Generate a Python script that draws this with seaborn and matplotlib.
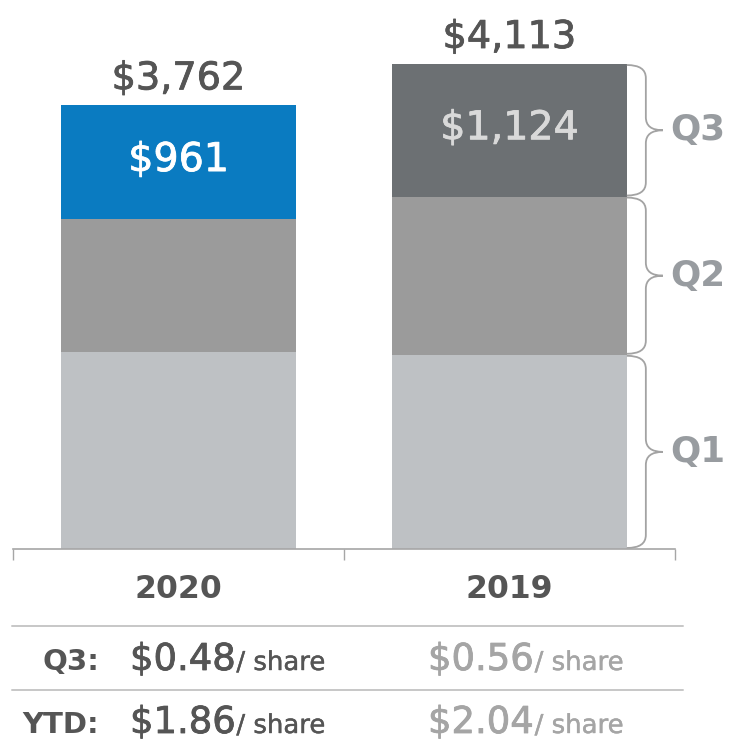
import matplotlib
matplotlib.use("Agg")
import matplotlib.pyplot as plt
import matplotlib.transforms as mtransforms
import matplotlib.patheffects as pe
from matplotlib.lines import Line2D
from matplotlib.patches import PathPatch
from matplotlib.path import Path
import seaborn as sns
import pandas as pd

# Net income by quarter ($ millions)
years = ["2020", "2019"]
q1_income = [1672, 1647]
q2_income = [1129, 1342]
q3_income = [961, 1124]
quarters = ["Q1", "Q2", "Q3"]

# Earnings per share
row_labels = ["Q3:", "YTD:"]
q3_eps = [0.48, 0.56]
ytd_eps = [1.86, 2.04]

sns.set_theme(style="white")
plt.rcParams["font.family"] = ["DejaVu Sans"]

W, H = 733, 747
fig = plt.figure(figsize=(W / 100, H / 100), dpi=100)
fig.patch.set_facecolor("white")

base_px, left_px, right_px = 549, 13, 675
ax = fig.add_axes([left_px / W, 1 - base_px / H, (right_px - left_px) / W, base_px / H])

df = pd.DataFrame({"year": years, "q1": q1_income, "q2": q2_income, "q3": q3_income})
df["upto_q2"] = df["q1"] + df["q2"]
df["total"] = df["upto_q2"] + df["q3"]

bar_w = 0.709
common = dict(data=df, x="year", order=years, width=bar_w, saturation=1,
              errorbar=None, linewidth=0, ax=ax)
sns.barplot(y="total", hue="year", palette={"2020": "#0A7BC1", "2019": "#6C7073"},
            legend=False, **common)
sns.barplot(y="upto_q2", color="#9B9B9B", **common)
sns.barplot(y="q1", color="#BEC1C4", **common)

ytop = df["total"].max() * base_px / (base_px - 64)
ax.set_ylim(0, ytop)
ax.set_xlim(-0.5, 1.5)
ax.set_xlabel("")
ax.set_ylabel("")
ax.set_yticks([])
ax.set_xticks([-0.5, 0.5, 1.5])
ax.set_xticklabels([])
ax.tick_params(axis="x", bottom=True, length=8, width=1, color="#A6A6A6", direction="out")
for side in ["left", "top", "right"]:
    ax.spines[side].set_visible(False)
ax.spines["bottom"].set_color("#A6A6A6")
ax.spines["bottom"].set_linewidth(1.2)

px_x = (right_px - left_px) / 2.0      # pixels per x data unit
px_y = base_px / ytop                   # pixels per y data unit
PT = 0.72                               # points per pixel at 100 dpi


def heavy(color, w=0.6):
    """Slightly thicker strokes for regular-weight figures."""
    return [pe.withStroke(linewidth=w, foreground=color)]


# totals above the bars
for i, t in enumerate(df["total"]):
    ax.annotate(f"${t:,}", xy=(i, t), xytext=(0, 16 * PT), textcoords="offset points",
                ha="center", va="baseline", fontsize=27.5, color="#555555",
                path_effects=heavy("#555555"))

# Q3 value inside the top segment
inner_colors = ["white", "#D9D9D9"]
for i, (b, h) in enumerate(zip(df["upto_q2"], df["q3"])):
    ax.text(i, b + h / 2 + 2 / px_y, f"${h:,}", ha="center", va="center", fontsize=28.5,
            color=inner_colors[i], path_effects=heavy(inner_colors[i]))

# year labels under the axis
trans = mtransforms.blended_transform_factory(ax.transData, fig.transFigure)
for i, y in enumerate(years):
    ax.text(i, 1 - 598 / H, y, transform=trans, ha="center", va="baseline",
            fontsize=22.7, fontweight="bold", color="#555555")

# curly braces for each quarter of the last bar
last = len(years) - 1
bounds = [0, df["q1"][last], df["upto_q2"][last], df["total"][last]]
x0 = last + bar_w / 2
xa = x0 + 19 / px_x
xt = x0 + 36 / px_x
r = 13 / px_y
gap = 1 / px_y
for k, q in enumerate(quarters):
    bot, top = bounds[k] + gap, bounds[k + 1] - gap
    mid = (bot + top) / 2
    verts = [(x0, top), (xa, top), (xa, top - r),
             (xa, mid + r), (xa, mid), (xt, mid),
             (xa, mid), (xa, mid - r),
             (xa, bot + r), (xa, bot), (x0, bot)]
    codes = [Path.MOVETO, Path.CURVE3, Path.CURVE3,
             Path.LINETO, Path.CURVE3, Path.CURVE3,
             Path.CURVE3, Path.CURVE3,
             Path.LINETO, Path.CURVE3, Path.CURVE3]
    ax.add_patch(PathPatch(Path(verts, codes), fill=False, edgecolor="#A3A3A3",
                           lw=1.3, clip_on=False))
    ax.text(xt + 7 / px_x, mid, q, ha="left", va="center", fontsize=25.7,
            fontweight="bold", color="#989CA0", clip_on=False)

# per-share table
for ypx in [626, 690]:
    fig.add_artist(Line2D([12 / W, 683 / W], [1 - ypx / H] * 2, color="#C8C8C8", lw=2 * PT))

row_base = [670, 733]
col_left = [130, 428]
val_colors = ["#555555", "#A5A5A5"]
fig.canvas.draw()
renderer = fig.canvas.get_renderer()
for r_i, (label, vals) in enumerate(zip(row_labels, [q3_eps, ytd_eps])):
    yb = 1 - row_base[r_i] / H
    fig.text(99 / W, yb, label, ha="right", va="baseline", fontsize=21,
             fontweight="bold", color="#555555")
    for j, v in enumerate(vals):
        t = fig.text(col_left[j] / W, yb, f"${v:.2f}", ha="left", va="baseline",
                     fontsize=26.6, color=val_colors[j], path_effects=heavy(val_colors[j]))
        bb = t.get_window_extent(renderer)
        fig.text((bb.x1 + 1) / W, yb, "/ share", ha="left", va="baseline",
                 fontsize=18.7, color=val_colors[j], path_effects=heavy(val_colors[j], 0.3))

fig.savefig("out.png", dpi=100)
